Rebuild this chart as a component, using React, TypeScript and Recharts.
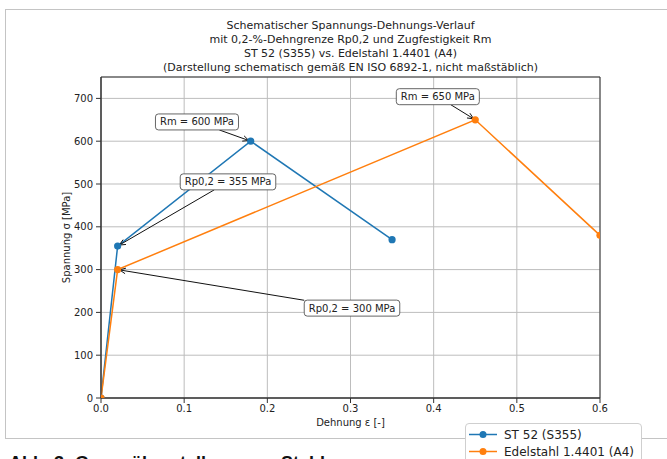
import React from 'react';
import {
  ComposedChart,
  Line,
  XAxis,
  YAxis,
  CartesianGrid,
  ReferenceLine,
  ReferenceDot,
  ReferenceArea,
  Label,
} from 'recharts';

// ---------- data ----------
const xTicks = [0, 0.1, 0.2, 0.3, 0.4, 0.5, 0.6];
const yTicks = [0, 100, 200, 300, 400, 500, 600, 700];

const st52Strain = [0, 0.02, 0.18, 0.35];
const st52Stress = [0, 355, 600, 370];
const a4Strain = [0, 0.02, 0.45, 0.6];
const a4Stress = [0, 300, 650, 380];

const seriesNames = ['ST 52 (S355)', 'Edelstahl 1.4401 (A4)'];

const titleLines = [
  'Schematischer Spannungs-Dehnungs-Verlauf',
  'mit 0,2-%-Dehngrenze Rp0,2 und Zugfestigkeit Rm',
  'ST 52 (S355) vs. Edelstahl 1.4401 (A4)',
  '(Darstellung schematisch gemäß EN ISO 6892-1, nicht maßstäblich)',
];

const xLabel = 'Dehnung ε [-]';
const yLabel = 'Spannung σ [MPa]';
const caption = 'Abb. 3: Gegenüberstellung von Stahl';

const annotationTexts = ['Rm = 600 MPa', 'Rp0,2 = 355 MPa', 'Rp0,2 = 300 MPa', 'Rm = 650 MPa'];
const annotationTargetX = [0.18, 0.02, 0.02, 0.45];
const annotationTargetY = [600, 355, 300, 650];
const annotationTextX = [0.1154, 0.1527, 0.3018, 0.405];
const annotationTextY = [645, 505, 210, 704];

// ---------- styles ----------
const COLORS = ['#1f77b4', '#ff7f0e'];
const FONT = "'DejaVu Sans', sans-serif";
const TEXT_COLOR = '#222';

const st52Data = st52Strain.map((x, i) => ({ x, y: st52Stress[i] }));
const a4Data = a4Strain.map((x, i) => ({ x, y: a4Stress[i] }));
const seriesData = [st52Data, a4Data];

let ctx: CanvasRenderingContext2D | null = null;
function measure(text: string): number {
  try {
    if (!ctx) ctx = document.createElement('canvas').getContext('2d');
    if (ctx) {
      ctx.font = "10px 'DejaVu Sans'";
      return ctx.measureText(text).width;
    }
  } catch (e) {}
  return text.length * 5.8;
}

const BOX_H = 16;

function makeArrow(text: string) {
  return (props: any) => {
    const { x1, y1, x2, y2 } = props;
    if ([x1, y1, x2, y2].some((v) => typeof v !== 'number' || isNaN(v))) return <g />;
    const w = measure(text) + 9;
    const dx = x2 - x1;
    const dy = y2 - y1;
    const tx = dx !== 0 ? w / 2 / Math.abs(dx) : Infinity;
    const ty = dy !== 0 ? BOX_H / 2 / Math.abs(dy) : Infinity;
    const t = Math.min(tx, ty);
    const sx = x1 + dx * t;
    const sy = y1 + dy * t;
    const len = Math.hypot(dx, dy) || 1;
    const ux = dx / len;
    const uy = dy / len;
    const ex = x2 - ux * 2;
    const ey = y2 - uy * 2;
    const hl = 6;
    const hw = 2.8;
    const bx = ex - ux * hl;
    const by = ey - uy * hl;
    const h1x = bx - uy * hw;
    const h1y = by + ux * hw;
    const h2x = bx + uy * hw;
    const h2y = by - ux * hw;
    return (
      <g>
        <line x1={sx} y1={sy} x2={ex} y2={ey} stroke="#111" strokeWidth={1} />
        <path d={`M${h1x},${h1y} L${ex},${ey} L${h2x},${h2y}`} fill="none" stroke="#111" strokeWidth={1} />
      </g>
    );
  };
}

function makeBox(text: string) {
  return (props: any) => {
    const { cx, cy } = props;
    if (typeof cx !== 'number' || typeof cy !== 'number') return <g />;
    const w = measure(text) + 9;
    return (
      <g>
        <rect
          x={cx - w / 2}
          y={cy - BOX_H / 2}
          width={w}
          height={BOX_H}
          rx={3}
          ry={3}
          fill="#fff"
          stroke="#555"
          strokeWidth={0.9}
        />
        <text
          x={cx}
          y={cy}
          textAnchor="middle"
          dominantBaseline="central"
          fontSize={10}
          fontFamily={FONT}
          fill={TEXT_COLOR}
        >
          {text}
        </text>
      </g>
    );
  };
}

const renderYLabel = (props: any) => {
  const vb = props.viewBox || {};
  const cx = (vb.x ?? 0) + (vb.width ?? 101) - 35;
  const cy = (vb.y ?? 77) + (vb.height ?? 321) / 2;
  return (
    <text
      x={cx}
      y={cy}
      transform={`rotate(-90 ${cx} ${cy})`}
      textAnchor="middle"
      dominantBaseline="central"
      fontSize={10}
      fontFamily={FONT}
      fill={TEXT_COLOR}
    >
      {yLabel}
    </text>
  );
};

const renderXLabel = (props: any) => {
  const vb = props.viewBox || {};
  const cx = (vb.x ?? 101) + (vb.width ?? 499) / 2;
  const cy = (vb.y ?? 398) + 24;
  return (
    <text
      x={cx}
      y={cy}
      textAnchor="middle"
      dominantBaseline="central"
      fontSize={10}
      fontFamily={FONT}
      fill={TEXT_COLOR}
    >
      {xLabel}
    </text>
  );
};

export default function App() {
  return (
    <div
      style={{
        position: 'fixed',
        left: 0,
        top: 0,
        width: 667,
        height: 459,
        overflow: 'hidden',
        background: '#fff',
        fontFamily: FONT,
      }}
    >
      {/* document frame */}
      <div
        style={{
          position: 'absolute',
          left: 5,
          top: 9,
          width: 680,
          height: 430,
          border: '1px solid #c4c4c4',
          boxSizing: 'border-box',
        }}
      />
      {/* title */}
      <div
        style={{
          position: 'absolute',
          left: 0,
          top: 19,
          width: 701,
          textAlign: 'center',
          fontSize: 11,
          lineHeight: '13.9px',
          color: TEXT_COLOR,
          whiteSpace: 'nowrap',
        }}
      >
        {titleLines.map((t) => (
          <div key={t}>{t}</div>
        ))}
      </div>

      <div style={{ position: 'absolute', left: 0, top: 0 }}>
        <ComposedChart width={667} height={459} margin={{ top: 77, right: 67, bottom: 0, left: 0 }}>
          <CartesianGrid stroke="#bdbdbd" strokeWidth={1} />
          <XAxis
            type="number"
            dataKey="x"
            domain={[0, 0.6]}
            ticks={xTicks}
            interval={0}
            allowDataOverflow
            height={61}
            tickSize={5}
            tickMargin={2}
            tickFormatter={(v: number) => v.toFixed(1)}
            stroke="#333"
            tick={{ fill: TEXT_COLOR, fontSize: 10, fontFamily: FONT }}
          >
            <Label content={renderXLabel} />
          </XAxis>
          <YAxis
            type="number"
            dataKey="y"
            domain={[0, 750]}
            ticks={yTicks}
            interval={0}
            allowDataOverflow
            width={101}
            tickSize={5}
            tickMargin={3}
            stroke="#333"
            tick={{ fill: TEXT_COLOR, fontSize: 10, fontFamily: FONT }}
          >
            <Label content={renderYLabel} />
          </YAxis>
          <ReferenceArea x1={0} x2={0.6} y1={0} y2={750} fill="none" stroke="#333" strokeWidth={1} ifOverflow="visible" />
          {seriesData.map((d, i) => (
            <Line
              key={seriesNames[i]}
              data={d}
              dataKey="y"
              name={seriesNames[i]}
              type="linear"
              stroke={COLORS[i]}
              strokeWidth={1.5}
              dot={{ r: 3.6, fill: COLORS[i], stroke: COLORS[i], strokeWidth: 0 }}
              activeDot={false}
              isAnimationActive={false}
            />
          ))}
          {annotationTexts.map((t, i) => (
            <ReferenceLine
              key={'a' + i}
              segment={[
                { x: annotationTextX[i], y: annotationTextY[i] },
                { x: annotationTargetX[i], y: annotationTargetY[i] },
              ]}
              ifOverflow="visible"
              shape={makeArrow(t)}
            />
          ))}
          {annotationTexts.map((t, i) => (
            <ReferenceDot
              key={'b' + i}
              x={annotationTextX[i]}
              y={annotationTextY[i]}
              r={1}
              ifOverflow="visible"
              shape={makeBox(t)}
            />
          ))}
        </ComposedChart>
      </div>

      {/* legend */}
      <div
        style={{
          position: 'absolute',
          left: 465,
          top: 423,
          width: 177,
          height: 50,
          border: '1px solid #cfcfcf',
          borderRadius: 4,
          background: '#fff',
          boxSizing: 'border-box',
        }}
      >
        {seriesNames.map((n, i) => (
          <div
            key={n}
            style={{
              position: 'absolute',
              left: 2,
              top: 2 + i * 17,
              height: 17,
              display: 'flex',
              alignItems: 'center',
              whiteSpace: 'nowrap',
            }}
          >
            <svg width={30} height={17} style={{ display: 'block' }}>
              <line x1={1} y1={8.5} x2={29} y2={8.5} stroke={COLORS[i]} strokeWidth={1.5} />
              <circle cx={15} cy={8.5} r={3.5} fill={COLORS[i]} />
            </svg>
            <span style={{ marginLeft: 6, fontSize: 12, color: TEXT_COLOR }}>{n}</span>
          </div>
        ))}
      </div>

      {/* caption (cut off at the bottom of the screenshot, as in the reference) */}
      <div
        style={{
          position: 'absolute',
          left: 9,
          top: 454,
          fontFamily: "'Liberation Sans', Arial, sans-serif",
          fontWeight: 'bold',
          fontSize: 18,
          lineHeight: '18px',
          color: '#111',
          whiteSpace: 'nowrap',
        }}
      >
        {caption}
      </div>
    </div>
  );
}
